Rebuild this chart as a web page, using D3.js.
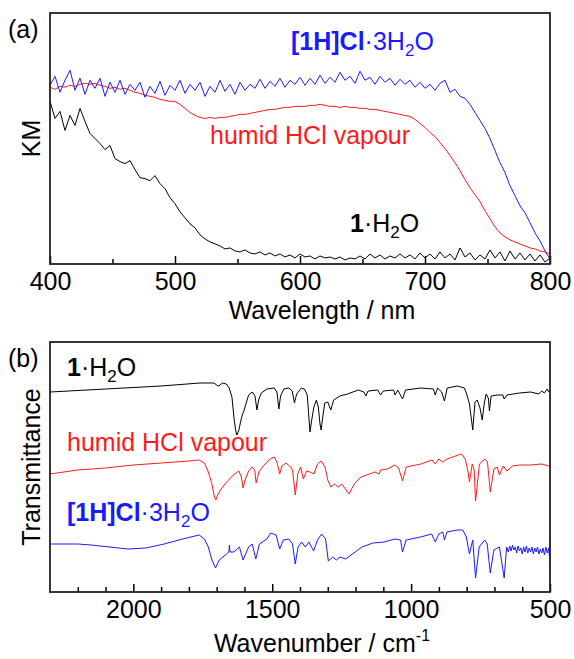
<!DOCTYPE html>
<html>
<head>
<meta charset="utf-8">
<script src="https://cdn.jsdelivr.net/npm/d3@7"></script>
<style>
  body { margin: 0; background: #fff; }
  svg { display: block; font-family: "Liberation Sans", Arial, sans-serif; }
</style>
</head>
<body>
<svg id="chart" width="574" height="659"></svg>
<script>
// ---- (a) diffuse reflectance, Kubelka-Munk, arbitrary units ----
// sampled every 4 nm from 400 to 800 nm
const wavelengths = d3.range(400, 801, 4);

const kmBlack = [
  1.62, 1.45, 1.52, 1.33, 1.48, 1.38, 1.55, 1.42, 1.30, 1.25,
  1.20, 1.14, 1.18, 1.05, 1.02, 1.00, 1.03, 0.94, 0.86, 0.85,
  0.83, 0.88, 0.80, 0.75, 0.66, 0.60, 0.52, 0.46, 0.40, 0.36,
  0.29, 0.25, 0.22, 0.20, 0.18, 0.15, 0.16, 0.13, 0.12, 0.14,
  0.11, 0.10, 0.12, 0.09, 0.11, 0.08, 0.10, 0.07, 0.09, 0.06,
  0.10, 0.07, 0.08, 0.05, 0.08, 0.06, 0.07, 0.05, 0.07, 0.04,
  0.06, 0.05, 0.08, 0.05, 0.10, 0.06, 0.09, 0.05, 0.08, 0.06,
  0.10, 0.06, 0.09, 0.05, 0.11, 0.06, 0.10, 0.05, 0.12, 0.06,
  0.10, 0.04, 0.16, 0.07, 0.11, 0.04, 0.09, 0.05, 0.14, 0.06,
  0.12, 0.03, 0.13, 0.05, 0.11, 0.04, 0.10, 0.03, 0.09, 0.02,
  0.06
];

const kmRed = [
  1.76, 1.74, 1.77, 1.76, 1.78, 1.77, 1.79, 1.80, 1.79, 1.80,
  1.78, 1.77, 1.75, 1.76, 1.74, 1.75, 1.73, 1.71, 1.70, 1.68,
  1.67, 1.66, 1.64, 1.63, 1.62, 1.62, 1.59, 1.55, 1.51, 1.48,
  1.46, 1.45, 1.46, 1.45, 1.46, 1.46, 1.47, 1.48, 1.49, 1.49,
  1.50, 1.51, 1.52, 1.53, 1.54, 1.54, 1.55, 1.56, 1.56, 1.57,
  1.57, 1.57, 1.58, 1.58, 1.59, 1.58, 1.57, 1.57, 1.56, 1.57,
  1.56, 1.56, 1.55, 1.55, 1.54, 1.54, 1.53, 1.52, 1.51, 1.50,
  1.49, 1.48, 1.47, 1.44, 1.40, 1.36, 1.31, 1.27, 1.21, 1.15,
  1.08, 1.01, 0.93, 0.84, 0.76, 0.69, 0.62, 0.53, 0.45, 0.37,
  0.31, 0.27, 0.24, 0.22, 0.20, 0.18, 0.16, 0.15, 0.13, 0.12,
  0.10
];

const kmBlue = [
  1.78, 1.87, 1.71, 1.83, 1.93, 1.73, 1.85, 1.69, 1.83, 1.75,
  1.85, 1.67, 1.81, 1.71, 1.83, 1.69, 1.79, 1.73, 1.81, 1.66,
  1.77, 1.70, 1.82, 1.68, 1.78, 1.73, 1.83, 1.70, 1.79, 1.73,
  1.81, 1.67, 1.77, 1.71, 1.83, 1.72, 1.79, 1.69, 1.81, 1.73,
  1.79, 1.75, 1.84, 1.75, 1.82, 1.77, 1.85, 1.76, 1.83, 1.79,
  1.86, 1.78, 1.85, 1.79, 1.88, 1.80, 1.86, 1.81, 1.91, 1.83,
  1.87, 1.80, 1.92, 1.83, 1.86, 1.79, 1.87, 1.81, 1.85, 1.78,
  1.84, 1.79, 1.83, 1.76, 1.81, 1.75, 1.79, 1.73, 1.80, 1.83,
  1.71, 1.74, 1.67, 1.65, 1.59, 1.51, 1.43, 1.35, 1.25, 1.13,
  1.01, 0.91, 0.78, 0.68, 0.58, 0.51, 0.41, 0.31, 0.23, 0.13,
  0.05
];

// ---- (b) IR spectra, [wavenumber, transmittance (offset, a.u.)] ----
const irBlack = [
  [2300, 2.00], [2100, 2.03], [1900, 2.06], [1760, 2.09], [1710, 2.09], [1700, 2.07],
  [1692, 2.06], [1680, 2.09], [1665, 2.08], [1655, 2.04], [1645, 1.95], [1638, 1.75],
  [1632, 1.62], [1627, 1.57], [1620, 1.62], [1614, 1.70], [1607, 1.78], [1603, 1.80],
  [1598, 1.85], [1585, 1.97], [1572, 2.00], [1562, 1.96], [1555, 1.82], [1549, 1.92],
  [1539, 1.99], [1519, 2.03], [1493, 2.04], [1483, 2.00], [1476, 1.83], [1470, 1.96],
  [1458, 2.03], [1440, 2.04], [1428, 2.01], [1420, 1.89], [1412, 1.98], [1395, 2.04],
  [1384, 2.03], [1374, 1.97], [1368, 1.75], [1364, 1.60], [1359, 1.70], [1350, 1.85],
  [1341, 1.92], [1334, 1.85], [1328, 1.68], [1324, 1.62], [1318, 1.75], [1311, 1.89],
  [1300, 1.90], [1289, 1.82], [1279, 1.92], [1256, 1.96], [1229, 1.98], [1190, 2.02],
  [1170, 2.00], [1163, 1.96], [1155, 2.01], [1120, 2.02], [1110, 1.97], [1100, 2.01],
  [1063, 2.02], [1058, 1.97], [1048, 2.02], [1031, 1.93], [1020, 2.02], [965, 2.04],
  [920, 2.03], [913, 1.97], [905, 2.04], [890, 2.00], [880, 1.91], [870, 2.04],
  [834, 2.06], [808, 2.04], [800, 1.98], [790, 1.88], [778, 1.62], [770, 1.90],
  [762, 1.92], [752, 1.84], [744, 1.72], [737, 1.88], [730, 1.98], [722, 1.94],
  [718, 1.81], [712, 1.96], [690, 1.97], [670, 1.97], [665, 1.93], [655, 1.97],
  [610, 1.99], [570, 2.00], [540, 1.98], [530, 2.01], [520, 1.99], [510, 2.03],
  [504, 2.00], [500, 2.01]
];

const irRed = [
  [2300, 1.18], [2200, 1.22], [2100, 1.24], [2000, 1.27], [1900, 1.29], [1800, 1.31],
  [1763, 1.32], [1744, 1.29], [1730, 1.20], [1718, 1.09], [1708, 0.95], [1703, 0.92],
  [1695, 0.98], [1684, 1.03], [1664, 1.10], [1640, 1.17], [1620, 1.21], [1611, 1.15],
  [1605, 1.04], [1598, 1.12], [1585, 1.21], [1572, 1.25], [1563, 1.22], [1558, 1.09],
  [1548, 1.20], [1526, 1.28], [1507, 1.33], [1493, 1.35], [1483, 1.30], [1473, 1.18],
  [1465, 1.26], [1450, 1.29], [1434, 1.25], [1427, 1.22], [1417, 0.97], [1408, 1.18],
  [1398, 1.25], [1388, 1.13], [1376, 1.21], [1364, 1.20], [1350, 1.18], [1337, 1.28],
  [1324, 1.31], [1310, 1.25], [1300, 1.12], [1289, 1.05], [1276, 1.08], [1262, 1.05],
  [1250, 1.08], [1223, 0.98], [1205, 1.08], [1180, 1.15], [1150, 1.18], [1130, 1.20],
  [1115, 1.18], [1110, 1.22], [1085, 1.23], [1058, 1.27], [1045, 1.24], [1031, 1.11],
  [1018, 1.25], [965, 1.28], [925, 1.32], [913, 1.28], [900, 1.33], [887, 1.30],
  [870, 1.33], [830, 1.37], [818, 1.38], [805, 1.33], [795, 1.20], [790, 1.10],
  [780, 1.28], [773, 1.22], [768, 0.91], [754, 1.28], [734, 1.33], [725, 1.30],
  [715, 1.00], [702, 1.23], [690, 1.25], [682, 1.17], [668, 1.26], [655, 1.21],
  [635, 1.26], [610, 1.27], [570, 1.27], [530, 1.28], [504, 1.26], [500, 1.26]
];

const irBlue = [
  [2300, 0.48], [2200, 0.48], [2152, 0.47], [2020, 0.43], [1955, 0.44], [1889, 0.48],
  [1823, 0.53], [1763, 0.57], [1744, 0.53], [1730, 0.45], [1717, 0.32], [1704, 0.24],
  [1691, 0.32], [1664, 0.38], [1656, 0.40], [1654, 0.47], [1652, 0.40], [1638, 0.40],
  [1618, 0.45], [1605, 0.32], [1585, 0.45], [1572, 0.48], [1559, 0.33], [1546, 0.48],
  [1519, 0.53], [1506, 0.59], [1486, 0.57], [1473, 0.43], [1460, 0.52], [1440, 0.53],
  [1427, 0.48], [1417, 0.28], [1407, 0.45], [1394, 0.50], [1381, 0.45], [1368, 0.50],
  [1351, 0.41], [1337, 0.52], [1322, 0.58], [1308, 0.53], [1298, 0.31], [1282, 0.35],
  [1269, 0.32], [1256, 0.35], [1236, 0.33], [1216, 0.37], [1177, 0.45], [1137, 0.49],
  [1097, 0.50], [1058, 0.53], [1038, 0.52], [1031, 0.40], [1018, 0.52], [966, 0.55],
  [926, 0.58], [913, 0.50], [900, 0.58], [886, 0.60], [880, 0.52], [871, 0.60],
  [834, 0.62], [814, 0.62], [801, 0.55], [790, 0.38], [778, 0.52], [768, 0.14],
  [755, 0.45], [735, 0.52], [726, 0.48], [715, 0.19], [702, 0.42], [682, 0.45],
  [665, 0.14], [656, 0.45], [650, 0.40], [645, 0.46], [640, 0.41], [635, 0.47],
  [630, 0.42], [625, 0.45], [620, 0.39], [615, 0.46], [610, 0.41], [605, 0.44],
  [600, 0.38], [595, 0.45], [590, 0.40], [585, 0.46], [580, 0.39], [575, 0.44],
  [570, 0.40], [565, 0.45], [560, 0.38], [555, 0.44], [550, 0.40], [545, 0.45],
  [540, 0.38], [535, 0.43], [530, 0.39], [525, 0.44], [520, 0.37], [515, 0.45],
  [510, 0.39], [505, 0.44], [502, 0.36], [501, 0.53], [500, 0.22]
];

// tick values
const kmMajor = [400, 500, 600, 700, 800];
const kmMinor = [450, 550, 650, 750];
const irMajor = [2000, 1500, 1000, 500];
const irMinor = [2200, 2100, 1900, 1800, 1700, 1600, 1400, 1300, 1200, 1100, 900, 800, 700, 600];

const BLACK = "#000000", RED = "#ff1a1a", BLUE = "#1a1aff";
const FS = 25;

const svg = d3.select("#chart");
const left = 50, right = 550;

function addLabel(g, x, y, color, parts) {
    let t = g.append("text").attr("x", x).attr("y", y)
        .attr("fill", color).style("font-size", FS + "px");
    let prevSub = false;
    parts.forEach(function (p) {
        let s = t.append("tspan").text(p.t);
        if (p.b) s.attr("font-weight", "bold");
        if (p.sub) {
            s.style("font-size", "17px").attr("dy", 6);
        } else if (prevSub) {
            s.attr("dy", -6);
        }
        prevSub = !!p.sub;
    });
}

const h2o = [{t: "1", b: true}, {t: "\u00B7"}, {t: "H"}, {t: "2", sub: true}, {t: "O"}];
const hcl = [{t: "humid HCl vapour"}];
const salt = [{t: "[1H]Cl", b: true}, {t: "\u00B7"}, {t: "3H"}, {t: "2", sub: true}, {t: "O"}];

function panel(opts) {
    let g = svg.append("g");
    let x = d3.scaleLinear().domain(opts.xDomain).range([left, right]);
    let y = d3.scaleLinear().domain([0, 2.5]).range([opts.bottom, opts.top]);

    g.append("clipPath").attr("id", opts.id)
        .append("rect").attr("x", left).attr("y", opts.top)
        .attr("width", right - left).attr("height", opts.bottom - opts.top);

    let lines = g.append("g").attr("clip-path", "url(#" + opts.id + ")");
    let line = d3.line().x(d => x(d[0])).y(d => y(d[1]));
    opts.series.forEach(function (s) {
        lines.append("path").datum(s.data)
            .attr("d", line)
            .attr("fill", "none")
            .attr("stroke", s.color)
            .attr("stroke-width", 1)
            .attr("stroke-linejoin", "round");
    });

    // minor + major ticks pointing inward
    let minor = g.append("g").attr("transform", "translate(0," + opts.bottom + ")")
        .call(d3.axisBottom(x).tickValues(opts.minor).tickSize(-5).tickFormat(""));
    let major = g.append("g").attr("transform", "translate(0," + opts.bottom + ")")
        .call(d3.axisBottom(x).tickValues(opts.major).tickSize(-8).tickPadding(8)
            .tickFormat(d3.format("d")));
    [minor, major].forEach(function (a) {
        a.select(".domain").remove();
        a.selectAll("line").attr("stroke", BLACK).attr("stroke-width", 1.5);
    });
    major.selectAll("text")
        .attr("fill", BLACK)
        .style("font-size", FS + "px")
        .style("font-family", "'Liberation Sans', Arial, sans-serif");

    g.append("rect").attr("x", left).attr("y", opts.top)
        .attr("width", right - left).attr("height", opts.bottom - opts.top)
        .attr("fill", "none").attr("stroke", "#222").attr("stroke-width", 1.8);

    // panel letter
    g.append("text").attr("x", 8).attr("y", opts.top + 25)
        .style("font-size", FS + "px").text(opts.letter);

    // y title
    g.append("text")
        .attr("transform", "translate(40," + ((opts.top + opts.bottom) / 2) + ") rotate(-90)")
        .attr("text-anchor", "middle")
        .style("font-size", FS + "px")
        .text(opts.yTitle);

    // x title
    let xt = g.append("text").attr("x", 322).attr("y", opts.bottom + opts.titleGap)
        .attr("text-anchor", "middle").style("font-size", FS + "px");
    xt.append("tspan").text(opts.xTitle);
    if (opts.xSup) {
        xt.append("tspan").text(opts.xSup).style("font-size", "16px").attr("dy", -11);
    }

    opts.labels.forEach(function (l) {
        addLabel(g, l.x, l.y, l.color, l.parts);
    });
}

panel({
    id: "clipA", letter: "(a)", top: 13, bottom: 264, titleGap: 55,
    xDomain: [400, 800], major: kmMajor, minor: kmMinor,
    yTitle: "KM", xTitle: "Wavelength / nm",
    series: [
        {data: wavelengths.map((w, i) => [w, kmBlack[i]]), color: BLACK},
        {data: wavelengths.map((w, i) => [w, kmRed[i]]), color: RED},
        {data: wavelengths.map((w, i) => [w, kmBlue[i]]), color: BLUE}
    ],
    labels: [
        {x: 291, y: 50, color: BLUE, parts: salt},
        {x: 210, y: 144, color: RED, parts: hcl},
        {x: 350, y: 232, color: BLACK, parts: h2o}
    ]
});

panel({
    id: "clipB", letter: "(b)", top: 342, bottom: 592, titleGap: 60,
    xDomain: [2300, 500], major: irMajor, minor: irMinor,
    yTitle: "Transmittance", xTitle: "Wavenumber / cm", xSup: "-1",
    series: [
        {data: irBlack, color: BLACK},
        {data: irRed, color: RED},
        {data: irBlue, color: BLUE}
    ],
    labels: [
        {x: 67, y: 376, color: BLACK, parts: h2o},
        {x: 67, y: 451, color: RED, parts: hcl},
        {x: 67, y: 521, color: BLUE, parts: salt}
    ]
});
</script>
</body>
</html>
